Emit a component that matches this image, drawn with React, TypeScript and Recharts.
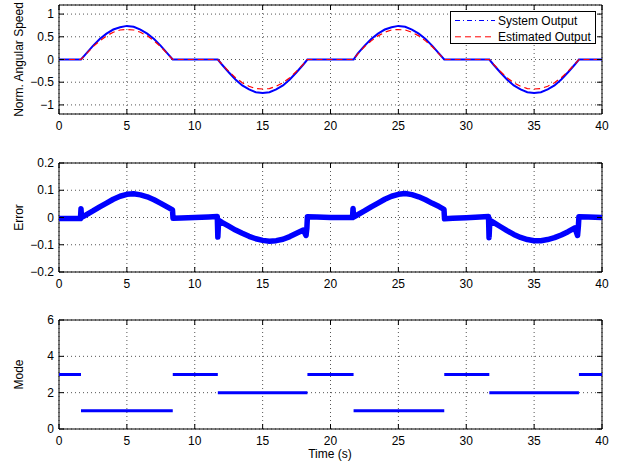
import React from "react";
import {
  LineChart,
  Line,
  XAxis,
  YAxis,
  CartesianGrid,
  ReferenceArea,
  Legend,
} from "recharts";

// ---- data ----
const timeTicks = [0, 5, 10, 15, 20, 25, 30, 35, 40];

const speedTime = [
  0, 1.62, 2, 2.5, 3, 3.5, 4, 4.5, 5, 5.5, 6, 6.5, 7, 7.5, 8, 8.38,
  11.7, 12, 12.5, 13, 13.5, 14, 14.5, 15, 15.5, 16, 16.5, 17, 17.5, 18, 18.3,
  21.7, 22, 22.5, 23, 23.5, 24, 24.5, 25, 25.5, 26, 26.5, 27, 27.5, 28, 28.38,
  31.7, 32, 32.5, 33, 33.5, 34, 34.5, 35, 35.5, 36, 36.5, 37, 37.5, 38, 38.3,
  40,
];
const systemOutput = [
  0, 0, 0.13, 0.3, 0.45, 0.57, 0.66, 0.71, 0.74, 0.72, 0.66, 0.57, 0.45, 0.3, 0.13, 0,
  0, -0.11, -0.28, -0.44, -0.57, -0.66, -0.72, -0.74, -0.72, -0.66, -0.57, -0.44, -0.28, -0.11, 0,
  0, 0.13, 0.3, 0.45, 0.57, 0.66, 0.71, 0.74, 0.72, 0.66, 0.57, 0.45, 0.3, 0.13, 0,
  0, -0.11, -0.28, -0.44, -0.57, -0.66, -0.72, -0.74, -0.72, -0.66, -0.57, -0.44, -0.28, -0.11, 0,
  0,
];
const estimatedOutput = [
  0, 0, 0.12, 0.28, 0.41, 0.52, 0.6, 0.65, 0.66, 0.65, 0.6, 0.52, 0.41, 0.28, 0.12, 0,
  0, -0.1, -0.26, -0.4, -0.51, -0.59, -0.64, -0.65, -0.64, -0.59, -0.51, -0.4, -0.26, -0.1, 0,
  0, 0.12, 0.28, 0.41, 0.52, 0.6, 0.65, 0.66, 0.65, 0.6, 0.52, 0.41, 0.28, 0.12, 0,
  0, -0.1, -0.26, -0.4, -0.51, -0.59, -0.64, -0.65, -0.64, -0.59, -0.51, -0.4, -0.26, -0.1, 0,
  0,
];

const errorTime = [
  0, 1.58, 1.62, 1.66, 2, 2.5, 3, 3.5, 4, 4.5, 5, 5.5, 6, 6.5, 7, 7.5, 8, 8.36, 8.4,
  9, 10, 11, 11.66, 11.7, 11.76, 12, 12.5, 13, 13.5, 14, 14.5, 15, 15.5, 16, 16.5,
  17, 17.5, 18, 18.2, 18.26, 18.3, 19, 20, 21, 21.62, 21.66, 21.7, 22, 22.5, 23,
  23.5, 24, 24.5, 25, 25.5, 26, 26.5, 27, 27.5, 28, 28.36, 28.4, 29, 30, 31, 31.64,
  31.68, 31.74, 32, 32.5, 33, 33.5, 34, 34.5, 35, 35.5, 36, 36.5, 37, 37.5, 38,
  38.2, 38.26, 38.3, 39, 40,
];
const errorValue = [
  -0.004, -0.004, 0.032, 0.0, 0.01, 0.024, 0.039, 0.053, 0.067, 0.078, 0.085, 0.087,
  0.083, 0.076, 0.065, 0.052, 0.038, 0.028, -0.003,
  -0.002, 0.0, 0.002, 0.004, -0.072, -0.01, -0.018, -0.032, -0.046, -0.058, -0.069,
  -0.078, -0.084, -0.087, -0.085, -0.08,
  -0.07, -0.058, -0.046, -0.066, -0.038, 0.003, 0.002, 0.0, 0.0, 0.0, 0.033, 0.002,
  0.01, 0.024, 0.039,
  0.053, 0.067, 0.078, 0.085, 0.088, 0.084, 0.076, 0.065, 0.052, 0.04, 0.03, -0.005,
  -0.003, -0.001, 0.002, 0.004,
  -0.074, -0.01, -0.018, -0.033, -0.048, -0.062, -0.073, -0.081, -0.085, -0.085,
  -0.081, -0.074, -0.064, -0.052, -0.038,
  -0.066, -0.032, 0.003, 0.002, 0.0,
];

const modeStart = [0, 1.62, 8.38, 11.7, 18.3, 21.7, 28.38, 31.7, 38.3];
const modeEnd = [1.62, 8.38, 11.7, 18.3, 21.7, 28.38, 31.7, 38.3, 40];
const modeValue = [3, 1, 3, 2, 3, 1, 3, 2, 3];

const speedTicks = [-1, -0.5, 0, 0.5, 1];
const errorTicks = [-0.2, -0.1, 0, 0.1, 0.2];
const modeTicks = [0, 2, 4, 6];

const legendNames = ["System Output", "Estimated Output"];

// ---- build rows ----
const speedData = speedTime.map((t, i) => ({
  t,
  system: systemOutput[i],
  estimated: estimatedOutput[i],
}));
const errorData = errorTime.map((t, i) => ({ t, err: errorValue[i] }));
const modeData: { t: number; mode: number | null }[] = [];
modeStart.forEach((s, i) => {
  modeData.push({ t: s, mode: modeValue[i] });
  modeData.push({ t: modeEnd[i], mode: modeValue[i] });
  modeData.push({ t: modeEnd[i], mode: null });
});

// ---- layout ----
// each chart svg starts 10px above its plot box so top tick labels fit
const W = 622;
const H = 161;
const TOP = 15;
const BOTTOM = 124;
const LEFT = 59;
const RIGHT = 602;
const FS = 12;
const FONT = '"Liberation Sans", Arial, Helvetica, sans-serif';

const fmt = (v: number) => (v < 0 ? "\u2212" + Math.abs(v) : String(v));

const XTick = (props: any) => {
  const { x, payload } = props;
  return (
    <g>
      <line x1={x} x2={x} y1={BOTTOM} y2={BOTTOM - 5} stroke="#000" />
      <line x1={x} x2={x} y1={TOP} y2={TOP + 5} stroke="#000" />
      <text x={x} y={BOTTOM + 16} textAnchor="middle" fontSize={FS} fontFamily={FONT} fill="#000">
        {fmt(payload.value)}
      </text>
    </g>
  );
};

const YTick = (props: any) => {
  const { y, payload } = props;
  return (
    <g>
      <line x1={LEFT} x2={LEFT + 5} y1={y} y2={y} stroke="#000" />
      <line x1={RIGHT - 5} x2={RIGHT} y1={y} y2={y} stroke="#000" />
      <text x={54} y={y + 4} textAnchor="end" fontSize={FS} fontFamily={FONT} fill="#000">
        {fmt(payload.value)}
      </text>
    </g>
  );
};

const yLabel = (text: string) => ({
  content: () => {
    const cy = (TOP + BOTTOM) / 2;
    return (
      <text
        x={23}
        y={cy}
        transform={`rotate(-90 23 ${cy})`}
        textAnchor="middle"
        fontSize={FS}
        fontFamily={FONT}
        fill="#000"
      >
        {text}
      </text>
    );
  },
});

const dashFor: Record<string, string> = {
  "System Output": "5 3 1 3",
  "Estimated Output": "6 4",
};

const LegendBox = (props: any) => {
  const items = props.payload || [];
  const ordered = legendNames
    .map((n) => items.find((it: any) => it.value === n))
    .filter(Boolean);
  return (
    <svg width={146} height={33} style={{ display: "block" }}>
      <rect x={0.5} y={0.5} width={145} height={32} fill="#fff" stroke="#000" />
      {ordered.map((it: any, i: number) => {
        const cy = 9.5 + i * 16.3;
        return (
          <g key={it.value}>
            <line
              x1={5}
              x2={45}
              y1={cy}
              y2={cy}
              stroke={it.color}
              strokeWidth={1}
              strokeDasharray={dashFor[it.value]}
            />
            <text x={48} y={cy + 4.3} fontSize={FS} fontFamily={FONT} fill="#000">
              {it.value}
            </text>
          </g>
        );
      })}
    </svg>
  );
};

const margin = { top: TOP, right: W - RIGHT, left: LEFT - 40, bottom: 0 };

export default function App() {
  const axisX = (extra?: any) => (
    <XAxis
      dataKey="t"
      type="number"
      domain={[0, 40]}
      ticks={timeTicks}
      height={H - BOTTOM}
      axisLine={false}
      tickLine={false}
      tick={<XTick />}
      interval={0}
      allowDataOverflow
      {...extra}
    />
  );
  const grid = <CartesianGrid stroke="#555" strokeDasharray="1 3" />;

  return (
    <div
      style={{
        position: "absolute",
        left: 0,
        top: 0,
        width: W,
        height: 466,
        background: "#fff",
        fontFamily: FONT,
        overflow: "hidden",
      }}
    >
      <div style={{ position: "absolute", left: 0, top: -10 }}>
        <LineChart width={W} height={H} data={speedData} margin={margin}>
          {grid}
          {axisX()}
          <YAxis
            type="number"
            domain={[-1.2, 1.2]}
            ticks={speedTicks}
            width={40}
            axisLine={false}
            tickLine={false}
            tick={<YTick />}
            interval={0}
            label={yLabel("Norm. Angular Speed")}
          />
          <ReferenceArea x1={0} x2={40} y1={-1.2} y2={1.2} fill="none" stroke="#000" strokeWidth={1} />
          <Line
            dataKey="system"
            name="System Output"
            stroke="#0000ff"
            strokeWidth={2}
            dot={false}
            type="linear"
            isAnimationActive={false}
          />
          <Line
            dataKey="estimated"
            name="Estimated Output"
            stroke="#ff0000"
            strokeWidth={1.2}
            strokeDasharray="6 4"
            dot={false}
            type="linear"
            isAnimationActive={false}
          />
          <Legend
            layout="vertical"
            align="center"
            verticalAlign="middle"
            content={<LegendBox />}
            wrapperStyle={{ position: "absolute", left: 450, top: 21, width: 146, height: 33 }}
          />
        </LineChart>
      </div>

      <div style={{ position: "absolute", left: 0, top: 148 }}>
        <LineChart width={W} height={H} data={errorData} margin={margin}>
          {grid}
          {axisX()}
          <YAxis
            type="number"
            domain={[-0.2, 0.2]}
            ticks={errorTicks}
            width={40}
            axisLine={false}
            tickLine={false}
            tick={<YTick />}
            interval={0}
            label={yLabel("Error")}
          />
          <ReferenceArea x1={0} x2={40} y1={-0.2} y2={0.2} fill="none" stroke="#000" strokeWidth={1} />
          <Line
            dataKey="err"
            stroke="#0000ff"
            strokeWidth={5.5}
            strokeLinejoin="round"
            dot={false}
            type="linear"
            isAnimationActive={false}
          />
        </LineChart>
      </div>

      <div style={{ position: "absolute", left: 0, top: 305 }}>
        <LineChart width={W} height={H} data={modeData} margin={margin}>
          {grid}
          {axisX({
            label: {
              content: () => (
                <text x={330} y={153} textAnchor="middle" fontSize={FS} fontFamily={FONT} fill="#000">
                  Time (s)
                </text>
              ),
            },
          })}
          <YAxis
            type="number"
            domain={[0, 6]}
            ticks={modeTicks}
            width={40}
            axisLine={false}
            tickLine={false}
            tick={<YTick />}
            interval={0}
            label={yLabel("Mode")}
          />
          <ReferenceArea x1={0} x2={40} y1={0} y2={6} fill="none" stroke="#000" strokeWidth={1} />
          <Line
            dataKey="mode"
            stroke="#0000ff"
            strokeWidth={3}
            dot={false}
            type="linear"
            connectNulls={false}
            isAnimationActive={false}
          />
        </LineChart>
      </div>
    </div>
  );
}
